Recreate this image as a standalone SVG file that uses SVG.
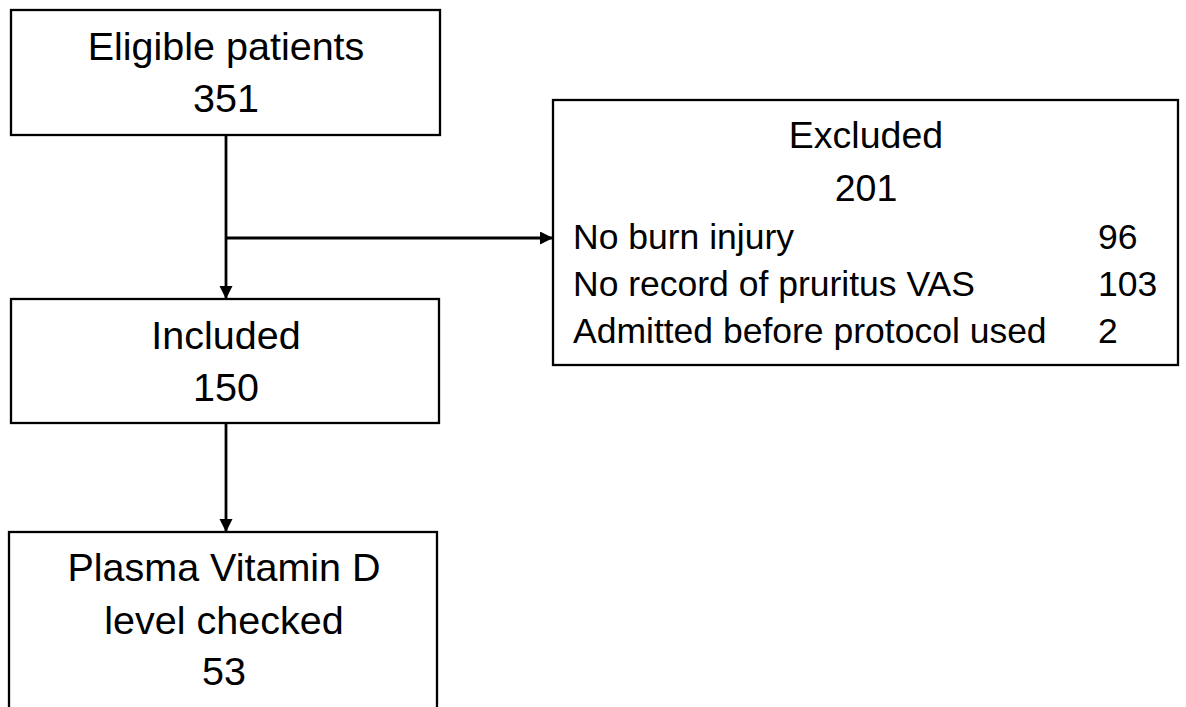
<svg xmlns="http://www.w3.org/2000/svg" width="1186" height="707" viewBox="0 0 1186 707">
<style>
.box{fill:#fff;stroke:#000;stroke-width:2.3}
.t{font-family:"Liberation Sans",Arial,sans-serif;fill:#000}
.c{text-anchor:middle}
.big{font-size:39.5px}
.mid{font-size:37.5px}
.sm{font-size:35.5px}
.edge{stroke:#000;stroke-width:2.8;fill:none}
</style>
<defs>
<marker id="ah" markerUnits="userSpaceOnUse" markerWidth="14" markerHeight="14" refX="13" refY="6.5" orient="auto">
<path d="M0,0 L13,6.5 L0,13 Z" fill="#000"/>
</marker>
</defs>
<rect width="1186" height="707" fill="#fff"/>
<g id="connectors">
<line class="edge" x1="226" y1="135" x2="226" y2="299" marker-end="url(#ah)"/>
<line class="edge" x1="226" y1="238" x2="553" y2="238" marker-end="url(#ah)"/>
<line class="edge" x1="226" y1="423" x2="226" y2="532" marker-end="url(#ah)"/>
</g>
<g id="eligible">
<rect class="box" x="11" y="10" width="429" height="125"/>
<text class="t c big" x="226" y="60">Eligible patients</text>
<text class="t c big" x="226" y="112">351</text>
</g>
<g id="excluded">
<rect class="box" x="553" y="100" width="625" height="265"/>
<text class="t c mid" x="866" y="148">Excluded</text>
<text class="t c mid" x="866" y="201">201</text>
<text class="t sm" x="573" y="249">No burn injury</text>
<text class="t sm" x="1098" y="249">96</text>
<text class="t sm" x="573" y="296">No record of pruritus VAS</text>
<text class="t sm" x="1098" y="296">103</text>
<text class="t sm" x="573" y="343">Admitted before protocol used</text>
<text class="t sm" x="1098" y="343">2</text>
</g>
<g id="included">
<rect class="box" x="11" y="299" width="428" height="124"/>
<text class="t c big" x="226" y="349">Included</text>
<text class="t c big" x="226" y="401">150</text>
</g>
<g id="plasma">
<rect class="box" x="9" y="532" width="428" height="200"/>
<text class="t c big" x="224" y="581">Plasma Vitamin D</text>
<text class="t c big" x="224" y="634">level checked</text>
<text class="t c big" x="224" y="685">53</text>
</g>
</svg>
